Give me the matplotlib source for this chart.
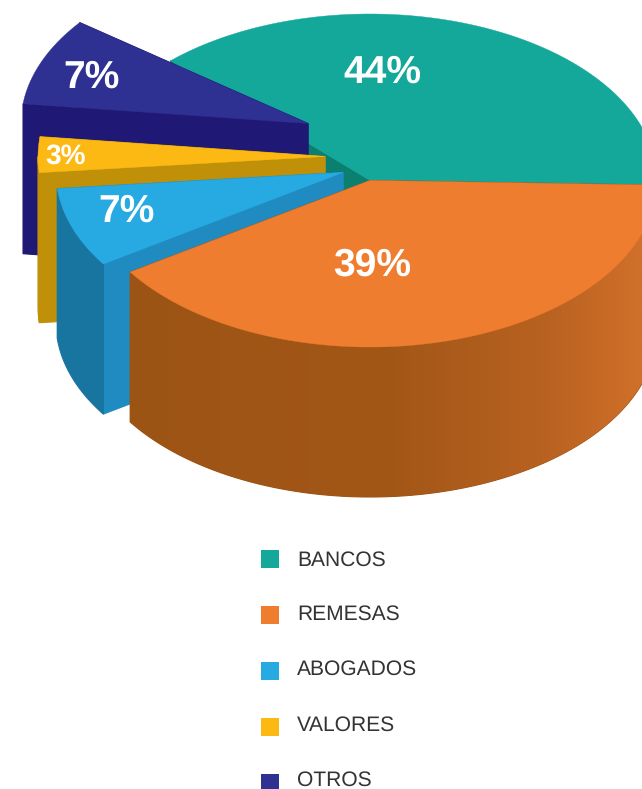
import numpy as np
import matplotlib
matplotlib.use("Agg")
import matplotlib.pyplot as plt
from matplotlib.patches import Polygon, Rectangle
from matplotlib.colors import LinearSegmentedColormap

plt.rcParams['font.family'] = ['Liberation Sans', 'DejaVu Sans']
plt.rcParams['text.hinting'] = 'none'
plt.rcParams['text.hinting_factor'] = 1

# ---- data ----
labels = ["BANCOS", "REMESAS", "ABOGADOS", "VALORES", "OTROS"]
values = [44, 39, 7, 3, 7]
value_labels = ["44%", "39%", "7%", "3%", "7%"]

# ---- styles ----
top_colors = ["#14A89B", "#EF7D2F", "#27AAE1", "#FDB913", "#2E3192"]
side_colors = ["#0B7F70", "#9C5415", "#1F8BC0", "#BF9008", "#1F1874"]
wall_colors = ["#0B7F70", "#9C5415", "#17759F", "#BF9008", "#1F1874"]
span_warp = [0.856, 1.033, 1.103, 1.148, 1.21]   # the drawing's uneven perspective
explode = [(0, 0), (0, 0), (-27, -8), (-45, -24), (-62, -57)]
label_xy = [(382, 73), (372, 265), (127, 212), (66, 156), (92, 78)]
label_size = [27.8, 27.8, 27.8, 20, 27.8]
draw_order = [0, 4, 3, 2, 1]

W, H = 642, 789
CX, CY, RX, RY, DEPTH = 370, 180.5, 287, 166.5, 150
START = 134.0

fig = plt.figure(figsize=(W / 100, H / 100), dpi=100)
ax = fig.add_axes([0, 0, 1, 1])
ax.set_xlim(0, W)
ax.set_ylim(H, 0)
ax.axis("off")


def arc(a, b, ox, oy, z=0, n=120):
    t = np.radians(np.linspace(a, b, n))
    return np.column_stack([CX + ox + RX * np.cos(t), CY + oy - RY * np.sin(t) + z])


def poly(pts, color, zorder, lw=0.3):
    p = Polygon(pts, closed=True, facecolor=color, edgecolor=color, lw=lw, zorder=zorder)
    ax.add_patch(p)
    return p


# angular extents, clockwise from the teal slice's left edge
fractions = np.array(values) / np.sum(values)
spans = fractions * 360 * np.array(span_warp)
ends = START - np.concatenate([[0], np.cumsum(spans)[:-1]])
begins = ends - spans

gradient = LinearSegmentedColormap.from_list(
    "wall", [(0, "#9C5415"), (0.52, "#A35717"), (0.82, "#B96221"), (1, "#D0702A")])

for rank, i in enumerate(draw_order):
    a = begins[i] % 360
    b = a + spans[i]
    ox, oy = explode[i]
    z = 10 + rank * 5
    apex = np.array([[CX + ox, CY + oy]])
    down = np.array([0, DEPTH])

    # cut faces: rear edge first, the one facing the viewer last
    edges = sorted([a, b], key=lambda t: np.sin(np.radians(t)), reverse=True)
    for k, e in enumerate(edges):
        rim = arc(e, e, ox, oy, n=1)
        poly(np.vstack([apex, rim, rim + down, apex + down]), side_colors[i], z + k * 0.1, lw=0.8)

    # outer wall, only where the rim faces the viewer
    if not (b <= 180 or a >= 360):
        lo, hi = max(a, 180), min(b, 360)
        upper = arc(lo, hi, ox, oy)
        lower = arc(hi, lo, ox, oy, z=DEPTH)
        wall = poly(np.vstack([upper, lower]), wall_colors[i], z + 1, lw=0.8)
        if i == 1:
            xmin = upper[:, 0].min()
            im = ax.imshow(np.linspace(0, 1, 256)[None, :], cmap=gradient, vmin=0, vmax=1,
                           extent=(xmin, W, H, 0), aspect="auto", zorder=z + 1.5,
                           interpolation="bilinear")
            im.set_clip_path(wall)

    # top surface
    poly(np.vstack([apex, arc(a, b, ox, oy)]), top_colors[i], z + 2)

ax.set_xlim(0, W)
ax.set_ylim(H, 0)

for i, txt in enumerate(value_labels):
    ax.text(*label_xy[i], txt, color="white", fontsize=label_size[i], fontweight="bold",
            ha="center", va="center", zorder=60)

# legend
square_y = [559, 615, 671, 727, 783]
text_y = [560, 614, 669.5, 725.5, 780]
for i, name in enumerate(labels):
    ax.add_patch(Rectangle((261, square_y[i] - 9), 18, 18, facecolor=top_colors[i],
                           edgecolor="none", zorder=60))
    ax.text(297, text_y[i], name, color="#333333", fontsize=15, ha="left", va="center", zorder=60)

fig.savefig("out.png", dpi=100, facecolor="white")
